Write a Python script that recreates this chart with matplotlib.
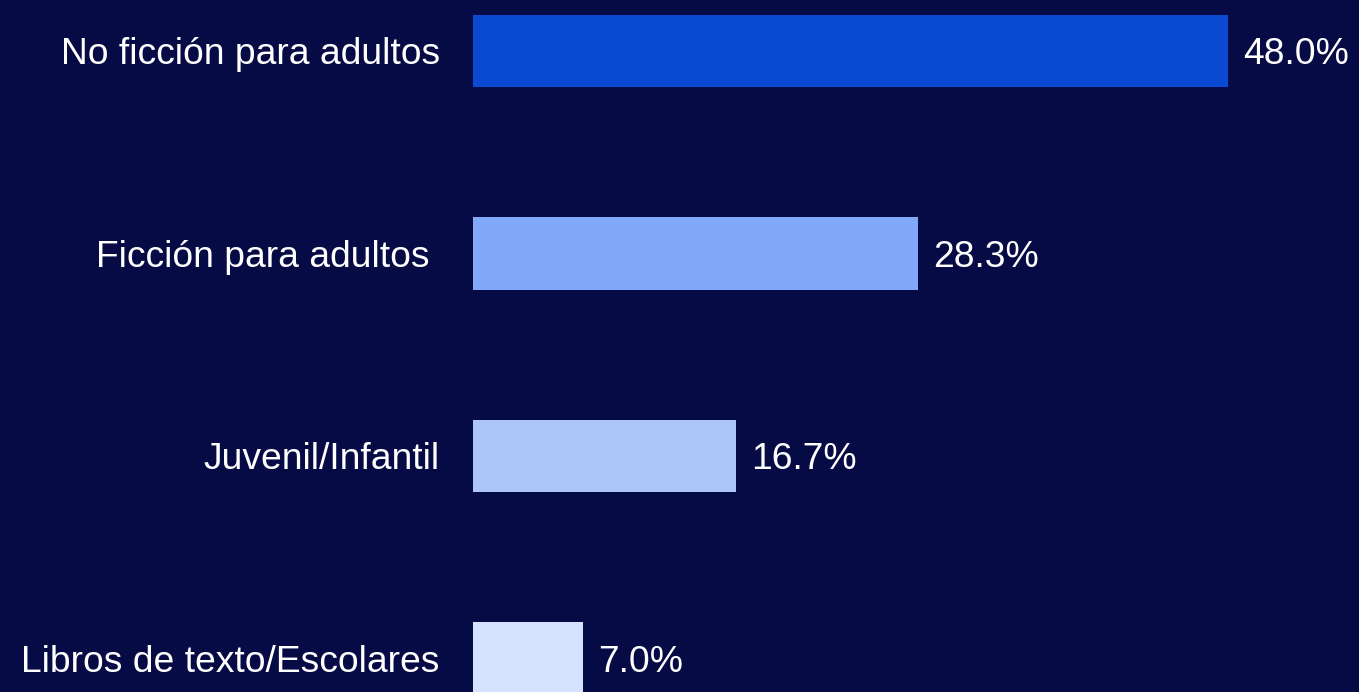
import matplotlib.pyplot as plt

categories = ["No ficción para adultos", "Ficción para adultos ",
              "Juvenil/Infantil", "Libros de texto/Escolares"]
values = [48.0, 28.3, 16.7, 7.0]
colors = ["#0a4ad3", "#82a8f9", "#adc6fa", "#d5e2fd"]
bg = "#060a45"

plt.rcParams['font.family'] = ['Liberation Sans', 'DejaVu Sans']

fig = plt.figure(figsize=(13.59, 6.92), dpi=100, facecolor=bg)
ax = fig.add_axes([473 / 1359, 0, 886 / 1359, 1])
ax.set_facecolor(bg)

ypos = list(range(len(categories)))
ax.barh(ypos, values, height=0.356, color=colors)
for y, v in zip(ypos, values):
    ax.annotate(f"{v:.1f}%", (v, y), xytext=(15, 0), textcoords="offset pixels",
                va="center_baseline", ha="left", color="white", fontsize=26.8)

ax.set_xlim(0, 886 / (755 / 48))
ax.set_ylim((692 - 51) / 202.5, -51 / 202.5)
ax.set_yticks(ypos)
ax.set_yticklabels(categories, color="white", fontsize=26.8)
ax.tick_params(axis="y", length=0, pad=24)
ax.set_xticks([])
for s in ax.spines.values():
    s.set_visible(False)

fig.savefig("out.png", dpi=100, facecolor=bg)
